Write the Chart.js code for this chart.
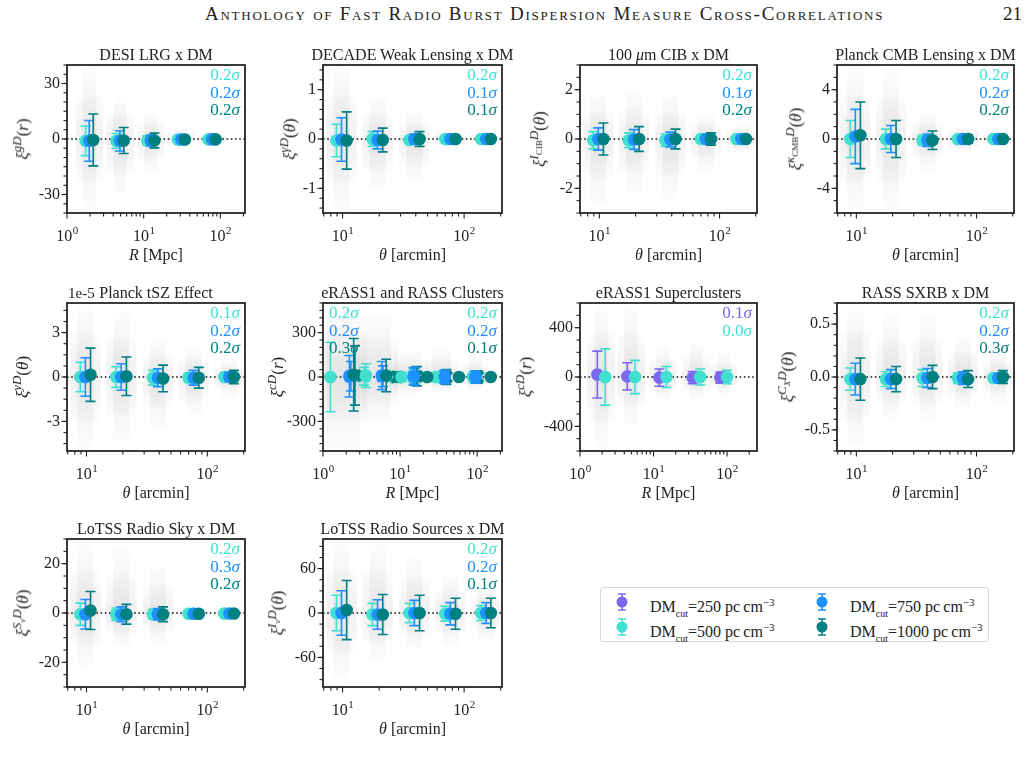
<!DOCTYPE html>
<html lang="en">
<head>
<meta charset="UTF-8">
<title>FRB DM cross-correlation null tests</title>
<script src="https://cdn.jsdelivr.net/npm/chart.js"></script>
<style>
  body { margin:0; background:#fff; width:1032px; height:763px; overflow:hidden; position:relative;
         font-family:"Liberation Serif","DejaVu Serif",serif; color:#222; }
  canvas { position:absolute; }
  .t { position:absolute; white-space:nowrap; line-height:18px; font-size:16px; }
  .c { transform:translateX(-50%); }
  .sig { position:absolute; white-space:nowrap; font-size:17px; line-height:17.5px; }
  .yl { position:absolute; white-space:nowrap; font-size:17px; line-height:18px; transform:translate(-50%,-50%) rotate(-90deg); }
  .yl sup { font-size:13px; }
  .yl sub { font-size:9px; }
  .head { position:absolute; top:3px; font-size:19px; letter-spacing:1.75px; font-variant:small-caps; white-space:nowrap; }
  .legend { position:absolute; left:600px; top:587px; width:387px; height:53px; border:1px solid #d8d8d8; border-radius:3px; }
  .legend canvas { position:absolute; }
  .legend .t sub { font-size:10px; }
  .legend .t sup { font-size:11px; }
</style>
</head>
<body>
<div class="head" style="left:205px">Anthology of Fast Radio Burst Dispersion Measure Cross-Correlations</div>
<div class="head" style="left:1003px; letter-spacing:0">21</div>
<div class="legend" id="legend"></div>
<script>
// colours of the four DM cuts
const DM250 = '#7B68EE', DM500 = '#40E0D0', DM750 = '#1E90FF', DM1000 = '#008080';

// bin centres, offset slightly per DM cut
const thetaBins500  = [8.9, 17.6, 35.5, 70, 138];
const thetaBins750  = [9.8, 19.4, 39, 77, 152];
const thetaBins1000 = [10.8, 21.4, 43, 85, 166];
const rBins500  = [1.75, 4.4, 11.2, 28, 70];
const rBins750  = [1.95, 4.9, 12.4, 31, 78];
const rBins1000 = [2.2, 5.5, 13.8, 34.5, 87];

// DESI LRG
const lrgXi  = [[-1, -1, -0.8, -0.3, -0.2], [-1, -1, -0.8, -0.3, -0.2], [-0.5, -0.8, -0.8, -0.3, -0.2]];
const lrgErr = [[8, 4, 2.5, 1, 0.8], [11, 5.5, 3, 1.2, 0.9], [14, 7, 4, 1.5, 1]];
const lrgNullHi = [40, 23, 14, 6, 4], lrgNullLo = [-40, -30, -18, -6, -4];
const lrgSigma = ['0.2', '0.2', '0.2'];
const lrgTicks = [-30, 0, 30];

// DECADE weak lensing
const wlXi  = [[-0.03, 0, -0.02, 0, 0], [-0.01, -0.02, 0, 0, 0], [-0.03, -0.02, 0, 0, 0]];
const wlErr = [[0.33, 0.15, 0.07, 0.03, 0.03], [0.44, 0.18, 0.1, 0.04, 0.03], [0.58, 0.24, 0.15, 0.05, 0.04]];
const wlNullHi = [1.5, 0.85, 0.55, 0.2, 0.15], wlNullLo = [-1.5, -1.05, -0.9, -0.2, -0.15];
const wlSigma = ['0.2', '0.1', '0.1'];
const wlTicks = [-1, 0, 1];

// 100 micron CIB
const cibXi  = [[-0.05, -0.05, -0.05, 0, 0], [0, -0.02, -0.02, 0, 0], [0, 0, 0, 0, 0]];
const cibErr = [[0.35, 0.3, 0.25, 0.1, 0.08], [0.45, 0.4, 0.3, 0.15, 0.1], [0.65, 0.5, 0.4, 0.25, 0.12]];
const cibNullHi = [1.8, 1.9, 1.8, 1.0, 0.6], cibNullLo = [-2.6, -2.2, -2.5, -1.3, -0.6];
const cibSigma = ['0.2', '0.1', '0.2'];
const cibTicks = [-2, 0, 2];

// Planck CMB lensing
const cmbXi  = [[0, 0, -0.1, 0, 0], [0.2, 0, -0.1, 0, 0], [0.3, 0, -0.1, 0, 0]];
const cmbErr = [[1.5, 0.8, 0.4, 0.2, 0.15], [2.2, 1.1, 0.5, 0.25, 0.2], [2.7, 1.5, 0.75, 0.35, 0.25]];
const cmbNullHi = [6, 5.5, 2.2, 1, 0.6], cmbNullLo = [-6, -5.8, -2.6, -1.2, -0.6];
const cmbSigma = ['0.2', '0.2', '0.2'];
const cmbTicks = [-4, 0, 4];

// Planck tSZ (units of 1e-5)
const tszXi  = [[0, 0, -0.05, -0.05, 0], [0, 0, -0.05, -0.05, 0], [0.15, 0.05, -0.1, -0.05, 0]];
const tszErr = [[1.0, 0.7, 0.5, 0.3, 0.12], [1.3, 0.9, 0.6, 0.5, 0.3], [1.8, 1.3, 0.9, 0.7, 0.45]];
const tszNullHi = [5, 4.5, 2.6, 2.0, 1.2], tszNullLo = [-5, -4.4, -3.5, -2.6, -1.3];
const tszSigma = ['0.1', '0.2', '0.2'];
const tszTicks = [-3, 0, 3];

// eRASS1 and RASS clusters (two catalogues)
const erassClX  = [[1.25, 3.6, 10.5, 29, 88], [2.2, 5.8, 15, 38, 95], [2.5, 6.6, 22.5, 58, 150]];
const erassClXi  = [[0, 10, 0, 0, 0], [5, 10, 5, 0, 0], [15, 10, 0, 0, 0]];
const erassClErr = [[235, 80, 30, 25, 20], [140, 95, 60, 45, 40], [245, 110, 20, 15, 12]];
const rassClX   = [[3.4, 8.6, 15, 36, 92], [2.3, 6.0, 15.5, 38, 97], [2.6, 9.1, 16.5, 40, 102]];
const rassClXi   = [[5, 0, 5, 0, 0], [5, 5, 5, 0, 0], [10, 0, 5, 0, 0]];
const rassClErr  = [[60, 30, 50, 40, 35], [100, 70, 55, 45, 38], [200, 35, 65, 50, 42]];
const clCloudX = [[1.2, 2.8], [3.4, 7], [9, 17], [28, 42], [85, 105]];
const clNullHi = [500, 420, 180, 200, 150], clNullLo = [-480, -300, -120, -110, -100];
const erassClSigma = ['0.2', '0.2', '0.3'];
const rassClSigma  = ['0.2', '0.2', '0.1'];
const clTicks = [-300, 0, 300];

// eRASS1 superclusters
const scX   = [[1.72, 4.4, 12, 34, 81], [2.2, 5.6, 15, 43, 100]];
const scXi  = [[20, 5, -5, -5, -5], [0, 0, 0, 0, 0]];
const scErr = [[190, 110, 70, 50, 45], [228, 135, 85, 65, 55]];
const scNullHi = [600, 580, 250, 280, 200], scNullLo = [-600, -400, -200, -180, -150];
const scSigma = ['0.1', '0.0'];
const scTicks = [-400, 0, 400];

// RASS SXRB
const sxXi  = [[-0.02, -0.02, -0.01, -0.01, -0.01], [-0.02, -0.02, -0.01, -0.01, -0.01], [-0.02, -0.02, 0, -0.02, 0]];
const sxErr = [[0.105, 0.07, 0.08, 0.05, 0.03], [0.15, 0.09, 0.09, 0.06, 0.04], [0.2, 0.12, 0.11, 0.08, 0.06]];
const sxNullHi = [0.7, 0.6, 0.6, 0.4, 0.25], sxNullLo = [-0.65, -0.4, -0.4, -0.3, -0.25];
const sxSigma = ['0.2', '0.2', '0.3'];
const sxTicks = [-0.5, 0, 0.5];

// LoTSS radio sky
const skyXi  = [[-0.5, -0.5, -0.5, -0.3, -0.2], [-0.5, -0.5, -0.5, -0.3, -0.2], [1, -0.5, -0.5, -0.3, -0.2]];
const skyErr = [[4.5, 2.5, 2, 0.8, 0.6], [6, 3, 2.3, 0.9, 0.7], [7.7, 4, 3, 1, 0.8]];
const skyNullHi = [29, 26, 19, 3, 2], skyNullLo = [-22, -14, -13, -3, -2];
const skySigma = ['0.2', '0.3', '0.2'];
const skyTicks = [-20, 0, 20];

// LoTSS radio sources
const srcXi  = [[0, -2, 0, -1, 0], [0, -2, 0, -1, 0], [4, -2, 0, -1, 0]];
const srcErr = [[24, 15, 13, 10, 10], [30, 20, 17, 15, 14], [40, 27, 24, 21, 20]];
const srcNullHi = [100, 95, 75, 50, 40], srcNullLo = [-90, -65, -50, -45, -38];
const srcSigma = ['0.2', '0.2', '0.1'];
const srcTicks = [-60, 0, 60];

const thetaBins = [thetaBins500, thetaBins750, thetaBins1000];
const rBins = [rBins500, rBins750, rBins1000];
const cutColors = [DM500, DM750, DM1000];
const THETA = '<i>θ</i> [arcmin]', RMPC = '<i>R</i> [Mpc]';

function threeCuts(xs, ys, es, marker) {
  return [0, 1, 2].map(i => ({ x: xs[i], y: ys[i], e: es[i], c: cutColors[i], m: marker || 'o' }));
}

const panels = [
  { title: 'DESI LRG x DM', xl: RMPC, yl: '<i>ξ</i><sup><i>gD</i></sup>(<i>r</i>)', ylOff: 47,
    rect: [67, 65, 178, 148], xr: [1, 210], yr: [-40, 40], ticks: lrgTicks, minor: 5, xlab: [1, 10, 100],
    series: threeCuts(rBins, lrgXi, lrgErr), hi: lrgNullHi, lo: lrgNullLo, sig: [[lrgSigma, cutColors, 'r']] },
  { title: 'DECADE Weak Lensing x DM', xl: THETA, yl: '<i>ξ</i><sup><i>γD</i></sup>(<i>θ</i>)', ylOff: 36,
    rect: [323, 65, 179, 148], xr: [6.9, 205], yr: [-1.5, 1.5], ticks: wlTicks, minor: 0.2, xlab: [10, 100],
    series: threeCuts(thetaBins, wlXi, wlErr), hi: wlNullHi, lo: wlNullLo, sig: [[wlSigma, cutColors, 'r']] },
  { title: '100 <i>μ</i>m CIB x DM', xl: THETA, yl: '<i>ξ</i><sup><i>I</i><sub>CIB</sub><i>D</i></sup>(<i>θ</i>)', ylOff: 43,
    rect: [580, 65, 177, 148], xr: [6.9, 205], yr: [-3, 3], ticks: cibTicks, minor: 0.5, xlab: [10, 100],
    series: threeCuts(thetaBins, cibXi, cibErr), hi: cibNullHi, lo: cibNullLo, sig: [[cibSigma, cutColors, 'r']] },
  { title: 'Planck CMB Lensing x DM', xl: THETA, yl: '<i>ξ</i><sup><i>κ</i><sub>CMB</sub><i>D</i></sup>(<i>θ</i>)', ylOff: 44,
    rect: [837, 65, 177, 148], xr: [6.9, 205], yr: [-6, 6], ticks: cmbTicks, minor: 1, xlab: [10, 100],
    series: threeCuts(thetaBins, cmbXi, cmbErr), hi: cmbNullHi, lo: cmbNullLo, sig: [[cmbSigma, cutColors, 'r']] },
  { title: 'Planck tSZ Effect', xl: THETA, yl: '<i>ξ</i><sup><i>yD</i></sup>(<i>θ</i>)', ylOff: 47, offset: '1e-5',
    rect: [67, 303, 178, 148], xr: [6.9, 205], yr: [-5, 5], ticks: tszTicks, minor: 0.75, xlab: [10, 100],
    series: threeCuts(thetaBins, tszXi, tszErr), hi: tszNullHi, lo: tszNullLo, sig: [[tszSigma, cutColors, 'r']] },
  { title: 'eRASS1 and RASS Clusters', xl: RMPC, yl: '<i>ξ</i><sup><i>cD</i></sup>(<i>r</i>)', ylOff: 48,
    rect: [323, 303, 179, 148], xr: [1, 210], yr: [-500, 500], ticks: clTicks, minor: 50, xlab: [1, 10, 100],
    series: threeCuts(rassClX, rassClXi, rassClErr, 'X').concat(threeCuts(erassClX, erassClXi, erassClErr)),
    cloudX: clCloudX, hi: clNullHi, lo: clNullLo,
    sig: [[erassClSigma, cutColors, 'l'], [rassClSigma, cutColors, 'r']] },
  { title: 'eRASS1 Superclusters', xl: RMPC, yl: '<i>ξ</i><sup><i>cD</i></sup>(<i>r</i>)', ylOff: 57,
    rect: [580, 303, 177, 148], xr: [1, 255], yr: [-600, 600], ticks: scTicks, minor: 100, xlab: [1, 10, 100],
    series: [{ x: scX[0], y: scXi[0], e: scErr[0], c: DM250, m: 'o' }, { x: scX[1], y: scXi[1], e: scErr[1], c: DM500, m: 'o' }],
    hi: scNullHi, lo: scNullLo, sig: [[scSigma, [DM250, DM500], 'r']] },
  { title: 'RASS SXRB x DM', xl: THETA, yl: '<i>ξ</i><sup><i>C</i><sub><i>X</i></sub><i>D</i></sup>(<i>θ</i>)', ylOff: 52,
    rect: [837, 303, 177, 148], xr: [6.9, 205], yr: [-0.7, 0.7], ticks: sxTicks, tickFmt: v => v.toFixed(1), minor: 0.1, xlab: [10, 100],
    series: threeCuts(thetaBins, sxXi, sxErr), hi: sxNullHi, lo: sxNullLo, sig: [[sxSigma, cutColors, 'r']] },
  { title: 'LoTSS Radio Sky x DM', xl: THETA, yl: '<i>ξ</i><sup><i>S</i><sub><i>ν</i></sub><i>D</i></sup>(<i>θ</i>)', ylOff: 47,
    rect: [67, 539, 178, 148], xr: [6.9, 205], yr: [-30, 30], ticks: skyTicks, minor: 5, xlab: [10, 100],
    series: threeCuts(thetaBins, skyXi, skyErr), hi: skyNullHi, lo: skyNullLo, sig: [[skySigma, cutColors, 'r']] },
  { title: 'LoTSS Radio Sources x DM', xl: THETA, yl: '<i>ξ</i><sup><i>I</i><sub><i>ν</i></sub><i>D</i></sup>(<i>θ</i>)', ylOff: 48,
    rect: [323, 539, 179, 148], xr: [6.9, 205], yr: [-100, 100], ticks: srcTicks, minor: 15, xlab: [10, 100],
    series: threeCuts(thetaBins, srcXi, srcErr), hi: srcNullHi, lo: srcNullLo, sig: [[srcSigma, cutColors, 'r']] },
];

const PL = 66, PR = 24, PT = 30, PB = 52;

function xMarker(color) {
  const cv = document.createElement('canvas');
  cv.width = 15; cv.height = 15;
  const g = cv.getContext('2d');
  g.fillStyle = color;
  g.translate(7.5, 7.5); g.rotate(Math.PI / 4);
  g.fillRect(-7.5, -2, 15, 4);
  g.fillRect(-2, -7.5, 4, 15);
  return cv;
}

function cloud(ctx, xa, xb, yt, yb, y0, peak) {
  const g = ctx.createLinearGradient(0, yt, 0, yb);
  const t0 = Math.min(0.95, Math.max(0.05, (y0 - yt) / (yb - yt)));
  const col = a => `rgba(195,195,195,${a})`;
  g.addColorStop(0, col(0.04));
  g.addColorStop(t0 * 0.45, col(peak * 0.6));
  g.addColorStop(t0, col(peak));
  g.addColorStop(t0 + (1 - t0) * 0.55, col(peak * 0.6));
  g.addColorStop(1, col(0.04));
  ctx.fillStyle = g;
  ctx.fillRect(xa, yt, xb - xa, yb - yt);
}

function decoPlugin(p) {
  return {
    id: 'deco',
    beforeDatasetsDraw(chart) {
      const { ctx, chartArea: a, scales: { x, y } } = chart;
      ctx.save();
      ctx.beginPath(); ctx.rect(a.left, a.top, a.width, a.height); ctx.clip();
      const y0 = y.getPixelForValue(0);
      const cx = p.cloudX || p.hi.map((_, i) => {
        const v = p.series.map(s => s.x[i]);
        return [Math.min(...v), Math.max(...v)];
      });
      cx.forEach((r, i) => {
        const x0 = x.getPixelForValue(r[0]), x1 = x.getPixelForValue(r[1]);
        cloud(ctx, x0 - 3, x1 + 3, y.getPixelForValue(p.hi[i]), y.getPixelForValue(p.lo[i]), y0, 0.28);
        cloud(ctx, x0 - 10, x1 + 10, y.getPixelForValue(p.hi[i] * 0.6), y.getPixelForValue(p.lo[i] * 0.6), y0, 0.25);
      });
      ctx.setLineDash([1.6, 2.6]);
      ctx.strokeStyle = '#111'; ctx.lineWidth = 1.5;
      ctx.beginPath(); ctx.moveTo(a.left, y0); ctx.lineTo(a.right, y0); ctx.stroke();
      ctx.restore();
    },
    beforeDatasetDraw(chart, args) {
      const ds = chart.data.datasets[args.index];
      const { ctx, scales: { x, y } } = chart;
      ctx.save();
      ctx.strokeStyle = ds.borderColor; ctx.lineWidth = 1.6;
      ds.data.forEach((pt, i) => {
        const px = x.getPixelForValue(pt.x);
        const top = y.getPixelForValue(pt.y + ds.err[i]), bot = y.getPixelForValue(pt.y - ds.err[i]);
        ctx.beginPath();
        ctx.moveTo(px, top); ctx.lineTo(px, bot);
        ctx.moveTo(px - 5, top); ctx.lineTo(px + 5, top);
        ctx.moveTo(px - 5, bot); ctx.lineTo(px + 5, bot);
        ctx.stroke();
      });
      ctx.restore();
    },
    afterDraw(chart) {
      const { ctx, chartArea: a, scales: { x, y } } = chart;
      ctx.save();
      ctx.strokeStyle = '#222'; ctx.lineWidth = 1.1;
      const tick = (x0, y0, x1, y1) => { ctx.beginPath(); ctx.moveTo(x0, y0); ctx.lineTo(x1, y1); ctx.stroke(); };
      const k0 = Math.floor(Math.log10(p.xr[0])), k1 = Math.ceil(Math.log10(p.xr[1]));
      for (let k = k0; k <= k1; k++) {
        for (let m = 1; m < 10; m++) {
          const v = m * Math.pow(10, k);
          if (v < p.xr[0] * 0.999 || v > p.xr[1] * 1.001) continue;
          const px = x.getPixelForValue(v);
          tick(px, a.bottom, px, a.bottom + (m === 1 ? 5.5 : 3.5));
        }
      }
      const n0 = Math.ceil(p.yr[0] / p.minor - 1e-6), n1 = Math.floor(p.yr[1] / p.minor + 1e-6);
      for (let n = n0; n <= n1; n++) {
        const py = y.getPixelForValue(n * p.minor);
        tick(a.left, py, a.left - 3.5, py);
      }
      p.ticks.forEach(v => { const py = y.getPixelForValue(v); tick(a.left, py, a.left - 5.5, py); });
      ctx.lineWidth = 1.8; ctx.strokeStyle = '#262626';
      ctx.strokeRect(a.left, a.top, a.width, a.height);

      ctx.fillStyle = '#222';
      ctx.font = '16px "Liberation Serif"';
      ctx.textAlign = 'right'; ctx.textBaseline = 'middle';
      p.ticks.forEach(v => {
        const s = p.tickFmt ? p.tickFmt(v) : String(v);
        ctx.fillText(s, a.left - 7, y.getPixelForValue(v));
      });
      ctx.textAlign = 'left'; ctx.textBaseline = 'alphabetic';
      p.xlab.forEach(v => {
        const e = String(Math.round(Math.log10(v)));
        ctx.font = '16px "Liberation Serif"';
        const w1 = ctx.measureText('10').width;
        ctx.font = '11px "Liberation Serif"';
        const w2 = ctx.measureText(e).width;
        const sx = x.getPixelForValue(v) - (w1 + w2) / 2;
        ctx.font = '16px "Liberation Serif"';
        ctx.fillText('10', sx, a.bottom + 28);
        ctx.font = '11px "Liberation Serif"';
        ctx.fillText(e, sx + w1 + 0.5, a.bottom + 21);
      });
      ctx.restore();
    }
  };
}

function addText(cls, html, left, top, color) {
  const d = document.createElement('div');
  d.className = cls;
  d.innerHTML = html;
  d.style.left = left + 'px';
  d.style.top = top + 'px';
  if (color) d.style.color = color;
  document.body.appendChild(d);
  return d;
}

panels.forEach(p => {
  const [L, T, W, H] = p.rect;
  const cv = document.createElement('canvas');
  cv.width = W + PL + PR; cv.height = H + PT + PB;
  cv.style.left = (L - PL) + 'px'; cv.style.top = (T - PT) + 'px';
  document.body.appendChild(cv);

  const datasets = p.series.map((s, i) => ({
    data: s.x.map((xv, j) => ({ x: xv, y: s.y[j] })),
    err: s.e,
    backgroundColor: s.c, borderColor: s.c,
    pointStyle: s.m === 'X' ? xMarker(s.c) : 'circle',
    pointRadius: 6.3, pointBorderWidth: 0,
    order: p.series.length - i
  }));

  new Chart(cv, {
    type: 'scatter',
    data: { datasets },
    options: {
      responsive: false, animation: false, events: [],
      layout: { padding: { left: PL, top: PT, right: PR, bottom: PB } },
      scales: {
        x: { type: 'logarithmic', display: false, min: p.xr[0], max: p.xr[1] },
        y: { type: 'linear', display: false, min: p.yr[0], max: p.yr[1] }
      },
      plugins: { legend: { display: false }, tooltip: { enabled: false } }
    },
    plugins: [decoPlugin(p)]
  });

  addText('t c', p.title, L + W / 2, T - 19);
  addText('t c', p.xl, L + W / 2, T + H + 33);
  addText('yl', p.yl, L - p.ylOff, T + H / 2);
  if (p.offset) addText('t', p.offset, L + 1, T - 19).style.fontSize = '15px';

  p.sig.forEach(([vals, cols, side]) => {
    vals.forEach((v, i) => {
      const d = addText('sig', v + '<i>σ</i>', side === 'r' ? L + W - 5 : L + 6, T + 1.25 + i * 17.5, cols[i]);
      if (side === 'r') d.style.transform = 'translateX(-100%)';
    });
  });
});

// legend
const legendEntries = [
  ['250', DM250, 0, 0], ['750', DM750, 1, 0],
  ['500', DM500, 0, 1], ['1000', DM1000, 1, 1]
];
const lg = document.getElementById('legend');
legendEntries.forEach(([cut, col, cx, cy]) => {
  const ic = document.createElement('canvas');
  ic.width = 14; ic.height = 22;
  ic.style.left = (14 + cx * 200) + 'px';
  ic.style.top = (3 + cy * 24.5) + 'px';
  const g = ic.getContext('2d');
  g.strokeStyle = col; g.fillStyle = col; g.lineWidth = 1.5;
  g.beginPath();
  g.moveTo(7, 3); g.lineTo(7, 19);
  g.moveTo(3, 3); g.lineTo(11, 3);
  g.moveTo(3, 19); g.lineTo(11, 19);
  g.stroke();
  g.beginPath(); g.arc(7, 11, 5.5, 0, Math.PI * 2); g.fill();
  lg.appendChild(ic);
  const t = document.createElement('div');
  t.className = 't';
  t.style.left = (49 + cx * 200) + 'px';
  t.style.top = (5 + cy * 24.5) + 'px';
  t.innerHTML = 'DM<sub>cut</sub>=' + cut + ' pc&#8201;cm<sup>−3</sup>';
  lg.appendChild(t);
});
</script>
</body>
</html>
